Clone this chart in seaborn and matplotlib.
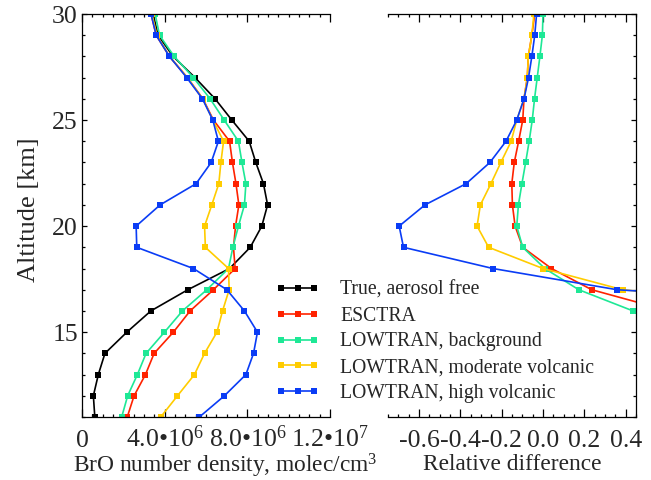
import numpy as np
import pandas as pd
import matplotlib
matplotlib.use("Agg")
import matplotlib.pyplot as plt
from matplotlib.lines import Line2D
from matplotlib.ticker import MultipleLocator
import seaborn as sns

# altitude grid, km
altitude = list(range(11, 31))

cases = ["True, aerosol free", "ESCTRA", "LOWTRAN, background",
         "LOWTRAN, moderate volcanic", "LOWTRAN, high volcanic"]
colors = ["#000000", "#ff2200", "#1ee896", "#ffcc00", "#0a3cf5"]

# BrO number density, 1e6 molec/cm3, altitude 11 -> 30
true_free = [0.62, 0.55, 0.79, 1.11, 2.17, 3.33, 5.12, 7.14, 8.14, 8.70,
             8.98, 8.78, 8.41, 8.09, 7.25, 6.44, 5.47, 4.41, 3.68, 3.44]
esctra = [2.19, 2.52, 3.07, 3.49, 4.42, 5.23, 6.36, 7.41, 7.33, 7.43,
          7.59, 7.45, 7.28, 7.14, 6.36, 5.85, 5.10, 4.23, 3.59, 3.34]
lt_background = [1.92, 2.21, 2.68, 3.10, 3.99, 4.86, 6.04, 7.09, 7.30, 7.57,
                 7.86, 7.93, 7.74, 7.57, 6.88, 6.20, 5.39, 4.46, 3.75, 3.54]
lt_moderate = [3.81, 4.62, 5.44, 5.93, 6.53, 6.80, 7.12, 7.09, 5.97, 5.93,
               6.28, 6.62, 6.72, 6.85, 6.33, 5.85, 5.10, 4.23, 3.62, 3.38]
lt_high = [5.68, 6.89, 7.93, 8.30, 8.49, 7.86, 7.01, 5.39, 2.65, 2.62,
           3.78, 5.52, 6.25, 6.60, 6.33, 5.83, 5.07, 4.23, 3.59, 3.34]

# relative difference, altitude 11 -> 30 (lowest levels run off the panel)
nan = np.nan
rd_esctra = [nan, nan, nan, nan, nan, 0.61, 0.236, 0.041, -0.098, -0.135,
             -0.148, -0.151, -0.139, -0.118, -0.098, -0.092, -0.076, -0.071, -0.054, -0.040]
rd_background = [nan, nan, nan, nan, 0.90, 0.436, 0.173, 0.009, -0.098, -0.127,
                 -0.119, -0.102, -0.084, -0.067, -0.052, -0.041, -0.028, -0.015, -0.003, 0.0]
rd_moderate = [nan, nan, nan, nan, nan, 1.5, 0.385, 0.0, -0.263, -0.319,
               -0.303, -0.252, -0.204, -0.154, -0.127, -0.092, -0.076, -0.071, -0.054, -0.044]
rd_high = [nan, nan, nan, nan, nan, 2.0, 0.359, -0.242, -0.675, -0.696,
           -0.571, -0.372, -0.257, -0.179, -0.127, -0.092, -0.070, -0.054, -0.040, -0.031]

sns.set_style("ticks")
plt.rcParams["font.family"] = ["Liberation Serif", "DejaVu Serif"]
plt.rcParams["mathtext.fontset"] = "custom"
plt.rcParams["mathtext.rm"] = "Liberation Serif"
plt.rcParams["mathtext.it"] = "Liberation Serif:italic"
plt.rcParams["font.size"] = 18.5

dens = pd.DataFrame({
    "alt": altitude * 5,
    "val": np.array(true_free + esctra + lt_background + lt_moderate + lt_high) * 1e6,
    "case": sum([[c] * len(altitude) for c in cases], []),
})
rel = pd.DataFrame({
    "alt": altitude * 4,
    "val": rd_esctra + rd_background + rd_moderate + rd_high,
    "case": sum([[c] * len(altitude) for c in cases[1:]], []),
}).dropna()

fig = plt.figure(figsize=(6.51, 4.8), dpi=100)
W, H = 651, 480
ax1 = fig.add_axes([82 / W, 1 - 417 / H, 248 / W, 403 / H])
ax2 = fig.add_axes([388 / W, 1 - 417 / H, 248 / W, 403 / H])

line_kw = dict(marker="s", markersize=5, markeredgewidth=0, linewidth=1.2)
sns.lineplot(data=dens, x="val", y="alt", hue="case", hue_order=cases,
             palette=colors, orient="y", sort=True, legend=False, ax=ax1, **line_kw)
sns.lineplot(data=rel, x="val", y="alt", hue="case", hue_order=cases[1:],
             palette=colors[1:], orient="y", sort=True, legend=False, ax=ax2, **line_kw)

ax1.set_xlim(0, 1.2e7)
ax1.set_ylim(11, 30)
ax1.set_xticks([0, 4e6, 8e6, 1.2e7])
ax1.set_xticklabels(["0", "4.0•10$^{6}$", "8.0•10$^{6}$", "1.2•10$^{7}$"])
ax1.xaxis.set_minor_locator(MultipleLocator(5e5))
ax1.set_yticks([15, 20, 25, 30])
ax1.yaxis.set_minor_locator(MultipleLocator(1))
ax1.spines["right"].set_visible(False)
ax1.tick_params(which="both", direction="in", top=True, right=False, color="black")

ax2.set_xlim(-0.75, 0.45)
ax2.set_ylim(11, 30)
ax2.set_xticks([-0.6, -0.4, -0.2, 0.0, 0.2, 0.4])
ax2.set_xticklabels(["-0.6", "-0.4", "-0.2", "0.0", "0.2", "0.4"])
ax2.xaxis.set_minor_locator(MultipleLocator(0.05))
ax2.set_yticks([15, 20, 25, 30])
ax2.yaxis.set_minor_locator(MultipleLocator(1))
ax2.spines["left"].set_visible(False)
ax2.tick_params(which="both", direction="in", top=True, left=False, right=True,
                labelleft=False, labelright=False, color="black")

for ax in (ax1, ax2):
    ax.tick_params(axis="x", which="major", length=5.5, width=0.9, pad=21.5)
    ax.tick_params(axis="x", which="minor", length=2.4, width=0.9)
    ax.tick_params(axis="y", which="major", length=3.8, width=0.9, pad=3)
    ax.tick_params(axis="y", which="minor", length=2.0, width=0.9)
    for t in ax.xaxis.get_major_ticks():
        t.label1.set_verticalalignment("baseline")
    for s in ax.spines.values():
        s.set_color("black")
        s.set_linewidth(0.9)

ax1.set_xlabel("BrO number density, molec/cm$^3$", fontsize=16.8)
ax1.xaxis.set_label_coords(0.577, -0.087)
ax1.set_ylabel("Altitude [km]", fontsize=19)
ax1.yaxis.set_label_coords(-0.17, 0.514)
ax2.set_xlabel("Relative difference", fontsize=16.8)
ax2.xaxis.set_label_coords(0.5, -0.092)
ax2.set_ylabel("")

handles = [Line2D([], [], color=c, **line_kw) for c in colors]
fig.legend(handles, cases, loc="upper left", bbox_to_anchor=(275 / W, 1 - 281 / H),
           frameon=False, fontsize=14.2, numpoints=3, handlelength=2.3,
           handletextpad=1.0, labelspacing=0.34, borderpad=0, borderaxespad=0)

fig.savefig("out.png", dpi=100)
